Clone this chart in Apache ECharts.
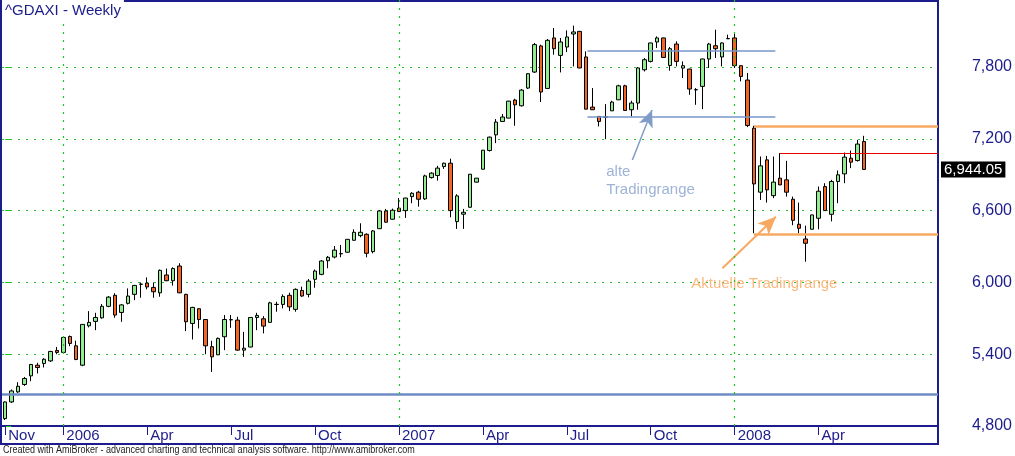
<!DOCTYPE html>
<html><head><meta charset="utf-8">
<script src="https://cdn.jsdelivr.net/npm/echarts@6/dist/echarts.min.js"></script>
<style>html,body{margin:0;padding:0;background:#fff}#c{width:1015px;height:456px}</style>
</head><body><div id="c"></div>
<script>
// ---- data (weekly candles, first week ending 2005-11-04) ----
const startDate = '2005-11-04';
const futureWeeks = 11;
const opens = [4862,5001,5085,5147,5219,5308,5322,5344,5431,5415,5548,5470,5308,5637,5674,5704,5800,5892,5749,5825,
5900,5984,5995,5958,5913,6062,6014,6137,5900,5657,5780,5690,5463,5395,5546,5687,5685,5434,5460,5707,
5696,5666,5815,5816,5892,5775,5933,5900,6026,6067,6181,6212,6239,6252,6352,6391,6402,6257,6449,6597,
6528,6621,6600,6717,6754,6698,6876,6893,6968,6996,6508,6570,6628,6838,6946,7102,7233,7345,7373,7524,
7476,7624,7758,7976,7621,8043,7897,7967,8076,8098,7884,7465,7387,7381,7434,7526,7643,7443,7499,7777,
7847,8009,8043,7813,7992,7791,7783,7609,7638,7867,7978,7884,8036,8043,7811,7691,7289,6754,7024,6725,
6871,6857,6695,6486,6363,6444,6536,6801,6569,6843,6907,7038,7018,7177];
const closes = [5001,5093,5132,5197,5314,5289,5358,5423,5415,5540,5490,5356,5649,5666,5707,5800,5877,5727,5812,5886,
5975,5986,5962,5922,6101,6014,6116,5913,5671,5791,5690,5470,5378,5532,5690,5689,5434,5450,5707,5724,
5635,5829,5817,5883,5796,5942,5886,6011,6095,6179,6210,6270,6241,6360,6419,6419,6243,6430,6597,6503,
6603,6592,6705,6745,6695,6890,6913,6955,6996,6600,6723,6586,6904,6871,7105,7214,7340,7382,7515,7484,
7607,7744,7987,7591,8023,7953,8009,8051,8093,7792,7448,7443,7345,7383,7507,7643,7437,7499,7792,7861,
8001,8043,7880,7953,7847,7811,7616,7611,7867,7992,7953,8001,8038,7811,7721,7311,6823,6974,6773,6838,
6815,6754,6519,6452,6327,6564,6762,6600,6843,6899,7047,7005,7156,6944.05];
const lows = [4850,4992,5077,5135,5174,5239,5289,5336,5400,5406,5467,5350,5300,5624,5601,5696,5793,5704,5671,5816,
5852,5872,5942,5872,5880,6010,5973,5910,5593,5523,5615,5400,5252,5393,5434,5620,5430,5378,5458,5601,
5574,5664,5755,5783,5760,5755,5880,5875,5955,6060,6118,6201,6210,6248,6350,6377,6210,6243,6447,6500,
6525,6590,6539,6662,6633,6689,6868,6851,6949,6544,6447,6447,6625,6835,6944,7094,7164,7343,7371,7309,
7470,7616,7750,7507,7619,7903,7755,7925,7805,7790,7446,7441,7303,7197,7432,7524,7435,7387,7443,7763,
7838,7959,7875,7769,7805,7708,7568,7484,7448,7792,7875,7805,8035,7792,7680,7298,6411,6689,6667,6704,
6813,6717,6478,6411,6173,6442,6444,6598,6510,6662,6829,6955,7010,6942];
const highs = [5005,5105,5166,5210,5319,5328,5367,5428,5461,5551,5556,5513,5652,5760,5746,5819,5886,5910,5819,5950,
5978,6000,6042,6000,6108,6116,6126,6160,5905,5796,5783,5692,5512,5540,5727,5727,5713,5587,5709,5746,
5718,5838,5838,5900,5914,5950,5964,6028,6108,6188,6221,6304,6313,6362,6444,6494,6410,6438,6606,6614,
6617,6705,6707,6754,6765,6900,6921,6974,7001,7034,6737,6614,6906,6873,7107,7219,7365,7407,7517,7535,
7616,7750,8001,7987,8034,8126,8043,8106,8146,8100,7931,7624,7389,7490,7518,7652,7652,7518,7800,7875,
8003,8056,8045,7967,8014,7847,7785,7624,7869,8001,8112,8006,8070,8090,7813,7750,7309,7052,7057,7052,
7080,7016,6717,6667,6474,6566,6801,6829,6857,6935,7085,7102,7191,7225];

const tickWeeks  = [0, 9, 22, 35, 48, 61, 74, 87, 100, 113, 126];
const tickLabels = ['Nov','2006','Apr','Jul','Oct','2007','Apr','Jul','Oct','2008','Apr'];
const yearWeeks  = [9, 61, 113];
const yTicks     = [4800, 5400, 6000, 6600, 7200, 7800];

const lastClose = 6944.05;
const supportLevel = 5067;
const oldRangeWeeks = [90.2, 119.3];
const oldRangeLevels = [7936, 7388];
const newRangeStart = 116;
const newRangeLevels = [7307, 6402];
const resistStart = 120;
const resistLevel = 7079;
const oldArrow = [[97.15, 7023], [100.2, 7441]];
const newArrow = [[111.1, 6118], [119.4, 6549]];
const annotationTexts = ['alte\nTradingrange', 'Aktuelle Tradingrange'];
const annotationPos = [[93.1, 6852], [117.6, 5992]];

const titleText = '^GDAXI - Weekly';
const footerText = 'Created with AmiBroker - advanced charting and technical analysis software. http://www.amibroker.com';

// ---- build ----
const cats = [];
const d0 = new Date(startDate + 'T00:00:00Z');
for (let i = 0; i < opens.length + futureWeeks; i++) {
  cats.push(new Date(d0.getTime() + i * 7 * 864e5).toISOString().slice(0, 10));
}
const candleData = opens.map((o, i) => [o, closes[i], lows[i], highs[i]]);
const labelMap = {};
tickWeeks.forEach((w, i) => labelMap[w] = tickLabels[i]);
const showTick = (i) => labelMap[i] !== undefined;
const fmt = (v, d) => v.toFixed(d || 0).replace(/\B(?=(\d{3})+(?!\d))/g, ',');

const NAVY = '#1c1c8c';
const GREEN_DOT = '#22c322';
const BLUE = '#7896c8';
const ORANGE = '#f8a860';
const FONT = 'Liberation Sans, Arial, sans-serif';
const lastIdx = cats.length - 0.5;

const chart = echarts.init(document.getElementById('c'), null, {renderer: 'canvas'});
chart.setOption({
  animation: false,
  textStyle: {fontFamily: FONT},
  title: [
    {text: titleText, left: 2, top: 0, padding: [3, 3, 3, 3], backgroundColor: '#fff', z: 10,
     textStyle: {color: NAVY, fontSize: 15, fontWeight: 'normal', fontFamily: FONT}}
  ],
  grid: {left: 2, right: 77, top: 0, bottom: 30, show: false},
  graphic: [
    {type: 'rect', z: 3, silent: true, shape: {x: 1, y: 1, width: 937, height: 443},
     style: {fill: null, stroke: NAVY, lineWidth: 2}},
    {type: 'text', z: 3, silent: true, x: 3, y: 450, scaleX: 0.9,
     style: {text: footerText, fill: '#222', font: '10px Liberation Sans, Arial', verticalAlign: 'middle', align: 'left'}}
  ],
  xAxis: [
    {type: 'category', data: cats, boundaryGap: true, gridIndex: 0,
     axisLine: {show: true, lineStyle: {color: NAVY, width: 2}},
     axisTick: {show: true, alignWithLabel: true, interval: showTick, length: 9, lineStyle: {color: NAVY, width: 1}},
     axisLabel: {interval: showTick, formatter: (v, i) => labelMap[i] || '', align: 'left', padding: [0, 0, 0, 3],
                 margin: 2, color: NAVY, fontSize: 15, fontFamily: FONT},
     splitLine: {show: false}},
    {type: 'value', min: -0.5, max: cats.length - 0.5, show: false, gridIndex: 0}
  ],
  yAxis: {type: 'value', position: 'right', min: 4800, max: 8360, interval: 600,
          axisLine: {show: false},
          axisTick: {show: true, customValues: yTicks, length: 6, lineStyle: {color: GREEN_DOT}},
          axisLabel: {customValues: yTicks, formatter: v => fmt(v), align: 'right', margin: 74,
                      color: NAVY, fontSize: 16, fontFamily: FONT},
          splitLine: {show: true, lineStyle: {color: GREEN_DOT, type: [2, 6], width: 1.2}}},
  series: [
    {type: 'candlestick', xAxisIndex: 0, yAxisIndex: 0, data: candleData, barWidth: 4, silent: true,
     emphasis: {disabled: true},
     itemStyle: {color: '#90ee90', color0: '#f26522', borderColor: '#000', borderColor0: '#000', borderWidth: 1}},
    {type: 'scatter', xAxisIndex: 1, yAxisIndex: 0, symbolSize: 0, silent: true, z: 4,
     data: [
       {value: annotationPos[0], label: {show: true, position: 'right', distance: 0, formatter: annotationTexts[0],
        color: '#86a0cc', fontSize: 15, lineHeight: 18, align: 'left', fontFamily: FONT}},
       {value: annotationPos[1], label: {show: true, position: 'inside', formatter: annotationTexts[1],
        color: ORANGE, fontSize: 15, fontFamily: FONT}}
     ],
     markLine: {
       silent: true, symbol: 'none', animation: false, label: {show: false}, emphasis: {disabled: true},
       data: [
         {yAxis: supportLevel, lineStyle: {color: '#6c8cc4', width: 2.5, type: 'solid'}},
         [{coord: [oldRangeWeeks[0], oldRangeLevels[0]]}, {coord: [oldRangeWeeks[1], oldRangeLevels[0]]}],
         [{coord: [oldRangeWeeks[0], oldRangeLevels[1]]}, {coord: [oldRangeWeeks[1], oldRangeLevels[1]]}],
         [{coord: [newRangeStart, newRangeLevels[0]], lineStyle: {color: ORANGE, width: 2.5, type: 'solid'}}, {coord: [lastIdx, newRangeLevels[0]]}],
         [{coord: [newRangeStart, newRangeLevels[1]], lineStyle: {color: ORANGE, width: 2.5, type: 'solid'}}, {coord: [lastIdx, newRangeLevels[1]]}],
         [{coord: [resistStart, resistLevel], lineStyle: {color: '#e80000', width: 1.2, type: 'solid'}}, {coord: [lastIdx, resistLevel]}],
         [{coord: oldArrow[0], lineStyle: {color: '#7f9cc8', width: 1.5, type: 'solid'}},
          {coord: oldArrow[1], symbol: 'arrow', symbolSize: [11, 17]}],
         [{coord: newArrow[0], lineStyle: {color: ORANGE, width: 2, type: 'solid'}},
          {coord: newArrow[1], symbol: 'arrow', symbolSize: [12, 18]}],
         ...yearWeeks.map(w => ({xAxis: w, lineStyle: {color: GREEN_DOT, type: [2, 6], width: 1.2}})),
         {yAxis: lastClose, lineStyle: {color: 'rgba(0,0,0,0)', width: 1},
          label: {show: true, position: 'end', distance: 3, formatter: fmt(lastClose, 2),
                  backgroundColor: '#000', color: '#fff', fontSize: 15, padding: [1, 3, 0, 3], fontFamily: FONT}}
       ],
       lineStyle: {color: BLUE, width: 1.5, type: 'solid'}
     }}
  ]
});
</script></body></html>
